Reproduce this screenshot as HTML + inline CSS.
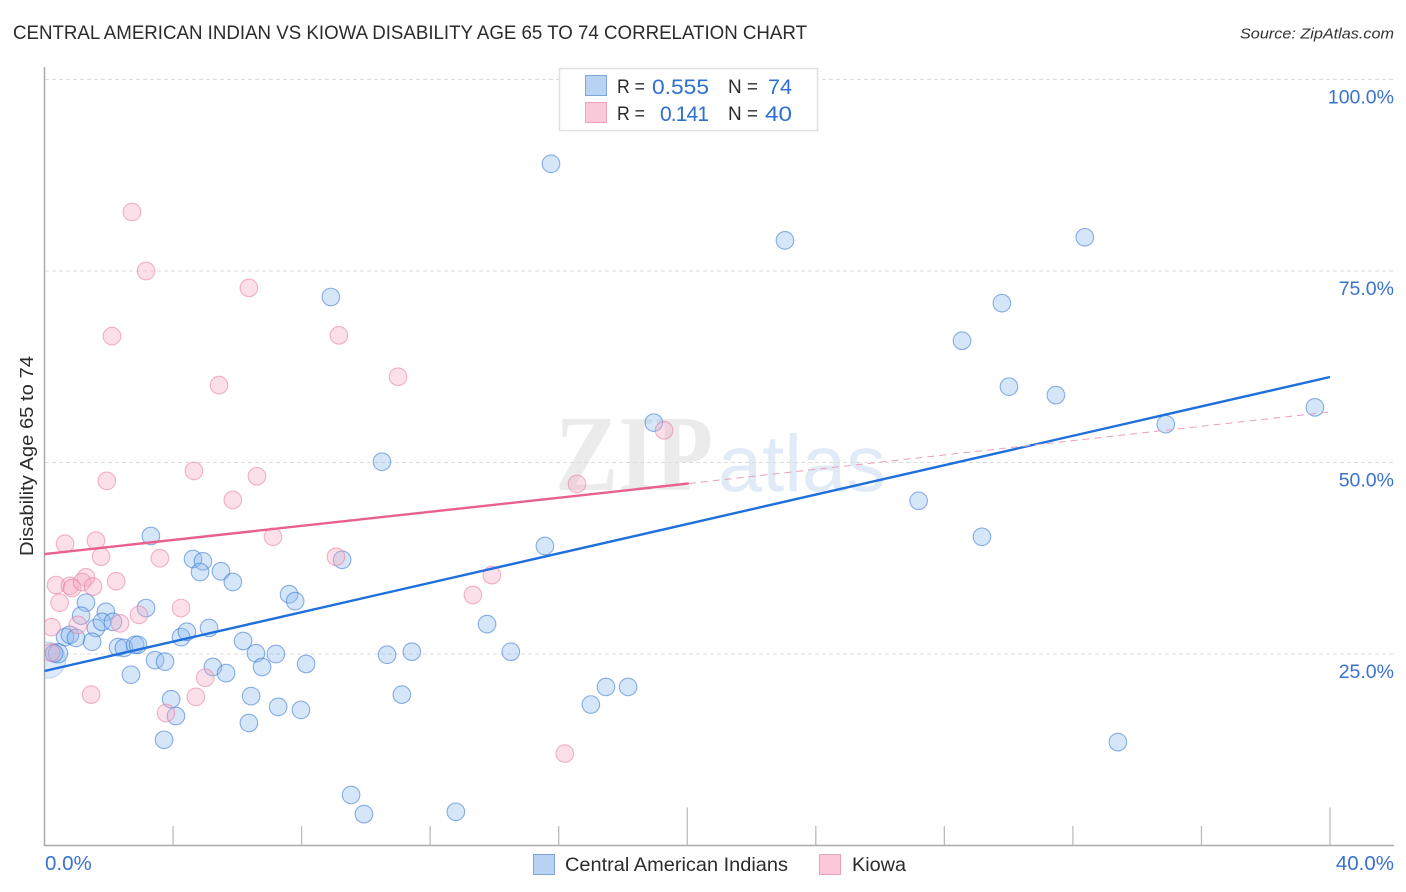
<!DOCTYPE html>
<html>
<head>
<meta charset="utf-8">
<title>Central American Indian vs Kiowa Disability Age 65 to 74 Correlation Chart</title>
<style>
html,body{margin:0;padding:0;background:#fff;width:1406px;height:892px;overflow:hidden}
svg{display:block}
text{font-family:"Liberation Sans",sans-serif}
</style>
</head>
<body>
<svg id="chart" width="1406" height="892" viewBox="0 0 1406 892" xmlns="http://www.w3.org/2000/svg">
<defs><clipPath id="plot-clip"><rect x="45" y="60" width="1349" height="785"/></clipPath></defs>
<text x="13" y="39" font-size="19.5" fill="#2b2b2b" textLength="794" lengthAdjust="spacingAndGlyphs">CENTRAL AMERICAN INDIAN VS KIOWA DISABILITY AGE 65 TO 74 CORRELATION CHART</text>
<text x="1394" y="38.5" font-size="15" font-style="italic" fill="#333" text-anchor="end" textLength="154" lengthAdjust="spacingAndGlyphs">Source: ZipAtlas.com</text>
<g>
<text x="555" y="490" font-size="108" font-weight="700" fill="#ebebeb" textLength="158" lengthAdjust="spacingAndGlyphs" style="font-family:'Liberation Serif',serif">ZIP</text>
<text x="718" y="491" font-size="80" fill="#e1ebf8" textLength="168" lengthAdjust="spacingAndGlyphs">atlas</text>
</g>
<g id="grid"></g>
<g id="axes"></g>
<g id="points-blue" clip-path="url(#plot-clip)"></g>
<g id="points-pink" clip-path="url(#plot-clip)"></g>
<g id="trends"></g>
<g>
<rect x="559.5" y="68.5" width="258" height="62" fill="#fff" stroke="#e0e0e0" stroke-width="1.5"/>
<rect x="585.5" y="75.5" width="21" height="20" fill="#b9d3f5" stroke="#7ea6d9" stroke-width="1"/>
<rect x="585.5" y="102.5" width="21" height="20" fill="#fcc8da" stroke="#eda3bc" stroke-width="1"/>
<text x="617" y="93" font-size="19" fill="#2b2b2b" textLength="28" lengthAdjust="spacingAndGlyphs">R =</text>
<text x="652" y="94" font-size="21" fill="#2f6fd0" textLength="57" lengthAdjust="spacingAndGlyphs">0.555</text>
<text x="728" y="93" font-size="19" fill="#2b2b2b" textLength="30" lengthAdjust="spacingAndGlyphs">N =</text>
<text x="768" y="94" font-size="21" fill="#2f6fd0" textLength="24" lengthAdjust="spacingAndGlyphs">74</text>
<text x="617" y="120" font-size="19" fill="#2b2b2b" textLength="28" lengthAdjust="spacingAndGlyphs">R =</text>
<text x="660" y="121" font-size="21" fill="#2f6fd0" textLength="49" lengthAdjust="spacing">0.141</text>
<text x="728" y="120" font-size="19" fill="#2b2b2b" textLength="30" lengthAdjust="spacingAndGlyphs">N =</text>
<text x="765" y="121" font-size="21" fill="#2f6fd0" textLength="27" lengthAdjust="spacingAndGlyphs">40</text>
</g>
<text transform="translate(33,556) rotate(-90)" font-size="18.5" fill="#2b2b2b" textLength="200" lengthAdjust="spacingAndGlyphs">Disability Age 65 to 74</text>
<g>
<g>
<rect x="533.5" y="854.5" width="21" height="20" fill="#b9d3f5" stroke="#7ea6d9" stroke-width="1"/>
<text x="565" y="871" font-size="19.5" fill="#2b2b2b" textLength="223" lengthAdjust="spacingAndGlyphs">Central American Indians</text>
</g>
<g>
<rect x="819.5" y="854.5" width="21" height="20" fill="#fcc8da" stroke="#eda3bc" stroke-width="1"/>
<text x="852" y="871" font-size="19.5" fill="#2b2b2b" textLength="54" lengthAdjust="spacingAndGlyphs">Kiowa</text>
</g>
</g>
</svg>
<script>
const yTicks = [25, 50, 75, 100];
const yTickLabels = ['25.0%', '50.0%', '75.0%', '100.0%'];
const xTicks = [0, 4, 8, 12, 16, 20, 24, 28, 32, 36, 40];
const xMajorTicks = [0, 20, 40];
const xEndLabels = ['0.0%', '40.0%'];
const xEndValues = [0, 40];

const blueX = [15.76,23.04,32.37,8.91,29.79,28.55,30.01,31.47,39.53,34.89,18.96,10.5,27.2,29.17,15.57,3.31,4.62,4.93,4.84,5.49,5.86,9.26,7.61,7.8,3.16,1.29,1.91,1.14,1.6,1.79,2.13,1.48,0.64,0.79,0.98,2.29,2.47,2.82,2.91,3.44,3.75,2.69,4.25,4.43,5.12,6.18,6.58,7.2,6.77,8.14,5.24,5.65,3.94,4.09,6.43,7.27,7.98,6.36,3.72,10.66,11.43,11.12,13.77,14.51,17.47,18.16,17.0,33.4,9.54,9.94,12.8,0.1,0.42,0.3];
const blueY = [89.0,79.0,79.4,71.6,70.8,65.9,59.9,58.8,57.2,55.0,55.2,50.1,45.0,40.3,39.1,40.4,37.4,37.1,35.7,35.8,34.4,37.3,32.8,31.9,31.0,31.7,30.5,30.0,28.4,29.2,29.2,26.6,27.2,27.5,27.1,25.9,25.8,26.2,26.2,24.2,24.0,22.3,27.2,27.9,28.4,26.7,25.1,25.0,23.3,23.7,23.3,22.5,19.1,16.9,19.5,18.1,17.7,16.0,13.8,24.9,25.3,19.7,28.9,25.3,20.7,20.7,18.4,13.5,6.6,4.1,4.4,24.2,25.1,25.1];
const blueSize = [1,1,1,1,1,1,1,1,1,1,1,1,1,1,1,1,1,1,1,1,1,1,1,1,1,1,1,1,1,1,1,1,1,1,1,1,1,1,1,1,1,1,1,1,1,1,1,1,1,1,1,1,1,1,1,1,1,1,1,1,1,1,1,1,1,1,1,1,1,1,1,2.05,1.1,1];

const pinkX = [2.72,3.16,6.36,2.1,9.16,5.43,11.0,19.28,4.65,1.94,6.61,5.86,16.57,7.11,0.64,1.6,1.76,3.59,9.07,13.92,1.29,2.23,0.36,0.79,0.86,1.17,1.51,0.47,4.25,2.94,2.35,1.04,0.22,13.33,0.2,5.0,4.71,1.45,3.78,16.19];
const pinkY = [82.7,75.0,72.8,66.5,66.6,60.1,61.2,54.2,48.9,47.6,48.2,45.1,47.2,40.3,39.4,39.8,37.7,37.5,37.7,35.3,35.0,34.5,34.0,33.9,33.6,34.4,33.8,31.7,31.0,30.1,29.0,28.8,28.5,32.7,25.2,21.9,19.4,19.7,17.3,12.0];

const blueTrendX = [0, 40];
const blueTrendY = [22.78, 61.16];
const pinkTrendSolidX = [0, 20.05];
const pinkTrendSolidY = [38.05, 47.26];
const pinkTrendDashX = [20.05, 40];
const pinkTrendDashY = [47.26, 56.6];

const NS = 'http://www.w3.org/2000/svg';
const xScale = v => 44.5 + v * (1330 - 44.5) / 40;
const yScale = v => 845.5 - v * (845.5 - 79.5) / 100;

function mk(tag, parent, attrs) {
  const el = document.createElementNS(NS, tag);
  for (const k in attrs) el.setAttribute(k, attrs[k]);
  parent.appendChild(el);
  return el;
}

const grid = document.getElementById('grid');
yTicks.forEach((t, i) => {
  const line = mk('line', grid, {x1: 45, x2: 1393, y1: yScale(t), y2: yScale(t), stroke: '#dcdcdc', 'stroke-width': 1, 'stroke-dasharray': '4 3'});
  
  
});

const axes = document.getElementById('axes');
const yAxisLine = mk('line', axes, {x1: 44.5, x2: 44.5, y1: 67, y2: 846, stroke: '#aaa', 'stroke-width': 1.5});


const xAxisLine = mk('line', axes, {x1: 44, x2: 1394, y1: 845.5, y2: 845.5, stroke: '#aaa', 'stroke-width': 1.5});



xTicks.forEach(t => {
  if (t === 0) return;
  const top = xMajorTicks.includes(t) ? 807.5 : 826;
  const tick = mk('line', axes, {x1: xScale(t), x2: xScale(t), y1: top, y2: 845, stroke: '#bbb', 'stroke-width': 1.3});
  
  
});

yTicks.forEach((t, i) => {
  const label = mk('text', axes, {x: 1394, y: yScale(t) + 24, 'font-size': 19.5, fill: '#3a72cf', 'text-anchor': 'end'});
  label.textContent = yTickLabels[i];
  
  
});

xEndValues.forEach((t, i) => {
  const label = mk('text', axes, {x: i === 0 ? 45 : 1394, y: 870, 'font-size': 20.5, fill: '#3a72cf', 'text-anchor': i === 0 ? 'start' : 'end'});
  label.textContent = xEndLabels[i];
  
  
});

const pointsBlue = document.getElementById('points-blue');
blueX.forEach((x, i) => {
  const big = blueSize[i] > 1.5;
  const c = mk('circle', pointsBlue, {cx: xScale(x), cy: yScale(blueY[i]), r: 8.8 * blueSize[i], fill: big ? 'rgba(140,185,238,0.3)' : 'rgba(140,185,238,0.36)', stroke: big ? 'rgba(90,150,225,0.3)' : 'rgba(50,115,210,0.55)', 'stroke-width': 1.1});
  
  
});

const pointsPink = document.getElementById('points-pink');
pinkX.forEach((x, i) => {
  const c = mk('circle', pointsPink, {cx: xScale(x), cy: yScale(pinkY[i]), r: 8.8, fill: 'rgba(248,170,195,0.36)', stroke: 'rgba(232,120,160,0.55)', 'stroke-width': 1.1});
  
  
});

const trends = document.getElementById('trends');
const blueTrend = mk('line', trends, {x1: xScale(blueTrendX[0]), y1: yScale(blueTrendY[0]), x2: xScale(blueTrendX[1]), y2: yScale(blueTrendY[1]), stroke: '#1f6fdc', 'stroke-width': 2.4});


const pinkSolid = mk('line', trends, {x1: xScale(pinkTrendSolidX[0]), y1: yScale(pinkTrendSolidY[0]), x2: xScale(pinkTrendSolidX[1]), y2: yScale(pinkTrendSolidY[1]), stroke: '#e9608f', 'stroke-width': 2.4});


const pinkDash = mk('line', trends, {x1: xScale(pinkTrendDashX[0]), y1: yScale(pinkTrendDashY[0]), x2: xScale(pinkTrendDashX[1]), y2: yScale(pinkTrendDashY[1]), stroke: '#e9a0b9', 'stroke-width': 1, 'stroke-dasharray': '7 5'});


</script>
</body>
</html>
